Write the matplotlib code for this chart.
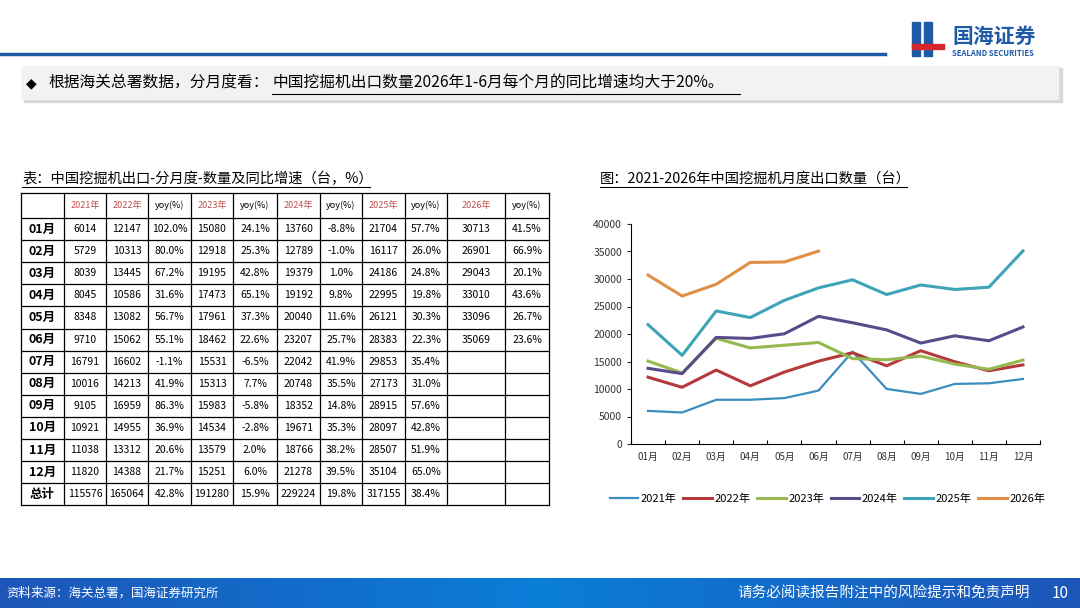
import numpy as np
import matplotlib
matplotlib.use('Agg')
import matplotlib.pyplot as plt
from matplotlib.patches import Rectangle

plt.rcParams['font.family'] = ['Noto Sans CJK SC', 'DejaVu Sans']

# ---- 数据 ----
months = ['01月', '02月', '03月', '04月', '05月', '06月',
          '07月', '08月', '09月', '10月', '11月', '12月']
years = ['2021年', '2022年', '2023年', '2024年', '2025年', '2026年']
v2021 = [6014, 5729, 8039, 8045, 8348, 9710, 16791, 10016, 9105, 10921, 11038, 11820]
v2022 = [12147, 10313, 13445, 10586, 13082, 15062, 16602, 14213, 16959, 14955, 13312, 14388]
v2023 = [15080, 12918, 19195, 17473, 17961, 18462, 15531, 15313, 15983, 14534, 13579, 15251]
v2024 = [13760, 12789, 19379, 19192, 20040, 23207, 22042, 20748, 18352, 19671, 18766, 21278]
v2025 = [21704, 16117, 24186, 22995, 26121, 28383, 29853, 27173, 28915, 28097, 28507, 35104]
v2026 = [30713, 26901, 29043, 33010, 33096, 35069]
y2022 = ['102.0%', '80.0%', '67.2%', '31.6%', '56.7%', '55.1%', '-1.1%', '41.9%', '86.3%', '36.9%', '20.6%', '21.7%']
y2023 = ['24.1%', '25.3%', '42.8%', '65.1%', '37.3%', '22.6%', '-6.5%', '7.7%', '-5.8%', '-2.8%', '2.0%', '6.0%']
y2024 = ['-8.8%', '-1.0%', '1.0%', '9.8%', '11.6%', '25.7%', '41.9%', '35.5%', '14.8%', '35.3%', '38.2%', '39.5%']
y2025 = ['57.7%', '26.0%', '24.8%', '19.8%', '30.3%', '22.3%', '35.4%', '31.0%', '57.6%', '42.8%', '51.9%', '65.0%']
y2026 = ['41.5%', '66.9%', '20.1%', '43.6%', '26.7%', '23.6%']
totals = ['115576', '165064', '42.8%', '191280', '15.9%', '229224', '19.8%', '317155', '38.4%', '', '']
series = [v2021, v2022, v2023, v2024, v2025, v2026]
colors = ['#3b8dbd', '#b5383b', '#95b84f', '#5b4a8a', '#3fa3b8', '#e08f45']

fig = plt.figure(figsize=(10.8, 6.08), dpi=100)
bg = fig.add_axes([0, 0, 1, 1])
bg.set_xlim(0, 1080)
bg.set_ylim(608, 0)
bg.axis('off')

# ---- 顶部 ----
bg.plot([0, 885], [54, 54], color='#1f5aa6', lw=2.5)
bg.add_patch(Rectangle((912, 22), 8, 34, color='#1f5aa6'))
bg.add_patch(Rectangle((924, 22), 8, 34, color='#1f5aa6'))
bg.add_patch(Rectangle((912, 44), 32, 5, color='#d6262e'))
bg.text(952, 36, '国海证券', fontsize=15, color='#1f5aa6', weight='bold', va='center')
bg.text(952, 53, 'SEALAND SECURITIES', fontsize=5.5, color='#1f5aa6', weight='bold', va='center')
bg.add_patch(Rectangle((24, 68), 1038, 34, color='#d8d8d8'))
bg.add_patch(Rectangle((22, 66), 1036, 33, color='#f2f2f2'))
bg.text(26, 83, '◆', fontsize=10, va='center', family=['DejaVu Sans'])
bg.text(48, 83, '根据海关总署数据，分月度看：', fontsize=11.3, va='center')
bg.text(272, 83, '中国挖掘机出口数量2026年1-6月每个月的同比增速均大于20%。', fontsize=11.3, va='center')
bg.plot([272, 740], [94, 94], color='black', lw=0.8)

# ---- 底部 ----
grad = np.linspace(0, 1, 256).reshape(1, -1)
bg.imshow(grad, extent=(0, 1080, 608, 578), cmap=matplotlib.colors.LinearSegmentedColormap.from_list(
    'b', ['#1d56b8', '#0a7ed8', '#1d56b8']), aspect='auto', zorder=1)
bg.set_xlim(0, 1080)
bg.set_ylim(608, 0)
bg.text(6, 593, '资料来源：海关总署，国海证券研究所', fontsize=9, color='white', va='center', zorder=2)
bg.text(1030, 593, '请务必阅读报告附注中的风险提示和免责声明', fontsize=10.5, color='white',
        va='center', ha='right', zorder=2)
bg.text(1060, 593, '10', fontsize=11, color='white', va='center', ha='center', zorder=2)

# ---- 表格 ----
bg.text(22, 179, '表：中国挖掘机出口-分月度-数量及同比增速（台，%）', fontsize=10.3, va='center')
bg.plot([22, 370], [187, 187], color='black', lw=0.8)
cols = [21, 64, 106, 148, 191, 233, 277, 320, 362, 405, 447, 505, 549]
top, hh, rh = 193, 25, 22.1
nrow = 14
rows_y = [top] + [top + hh + i * rh for i in range(nrow)]
for y in rows_y:
    bg.plot([cols[0], cols[-1]], [y, y], color='black', lw=0.9)
for x in cols:
    bg.plot([x, x], [rows_y[0], rows_y[-1]], color='black', lw=0.9)
header = ['', '2021年', '2022年', 'yoy(%)', '2023年', 'yoy(%)', '2024年', 'yoy(%)',
          '2025年', 'yoy(%)', '2026年', 'yoy(%)']
for j, h in enumerate(header):
    cx = (cols[j] + cols[j + 1]) / 2
    bg.text(cx, top + hh / 2, h, fontsize=6.5, ha='center', va='center',
            color='#c0504d' if '年' in h else 'black')
for i in range(13):
    cy = rows_y[i + 1] + rh / 2
    if i < 12:
        cells = [months[i], str(v2021[i]), str(v2022[i]), y2022[i], str(v2023[i]), y2023[i],
                 str(v2024[i]), y2024[i], str(v2025[i]), y2025[i],
                 str(v2026[i]) if i < 6 else '', y2026[i] if i < 6 else '']
    else:
        cells = ['总计'] + totals
    for j, c in enumerate(cells):
        cx = (cols[j] + cols[j + 1]) / 2
        bg.text(cx, cy, c, fontsize=9 if j == 0 else 7.5, ha='center', va='center',
                weight='bold' if j == 0 else 'normal')

# ---- 折线图 ----
bg.text(600, 179, '图：2021-2026年中国挖掘机月度出口数量（台）', fontsize=10.3, va='center')
bg.plot([600, 907], [187, 187], color='black', lw=0.8)
ax = fig.add_axes([631 / 1080, 1 - 444 / 608, 409 / 1080, 220 / 608])
x = np.arange(12)
for s, c, yr in zip(series, colors, years):
    ax.plot(x[:len(s)], s, color=c, lw=2.2 if yr != '2021年' else 1.6, label=yr)
ax.set_xlim(-0.5, 11.5)
ax.set_ylim(0, 40000)
ax.set_yticks(range(0, 40001, 5000))
ax.set_xticks(np.arange(-0.5, 11.6, 1), minor=False)
ax.set_xticklabels([])
for i, m in enumerate(months):
    ax.text(i, -2300, m, fontsize=7, ha='center', va='center', color='#333333')
ax.tick_params(axis='y', labelsize=7.5, length=3, colors='#333333')
ax.tick_params(axis='x', length=3, direction='in')
for sp in ['top', 'right']:
    ax.spines[sp].set_visible(False)
ax.legend(loc='upper center', bbox_to_anchor=(0.48, -0.18), ncol=6, frameon=False,
          fontsize=8, handlelength=2.6, columnspacing=0.6, handletextpad=0.2)

fig.savefig('out.png', dpi=100)
